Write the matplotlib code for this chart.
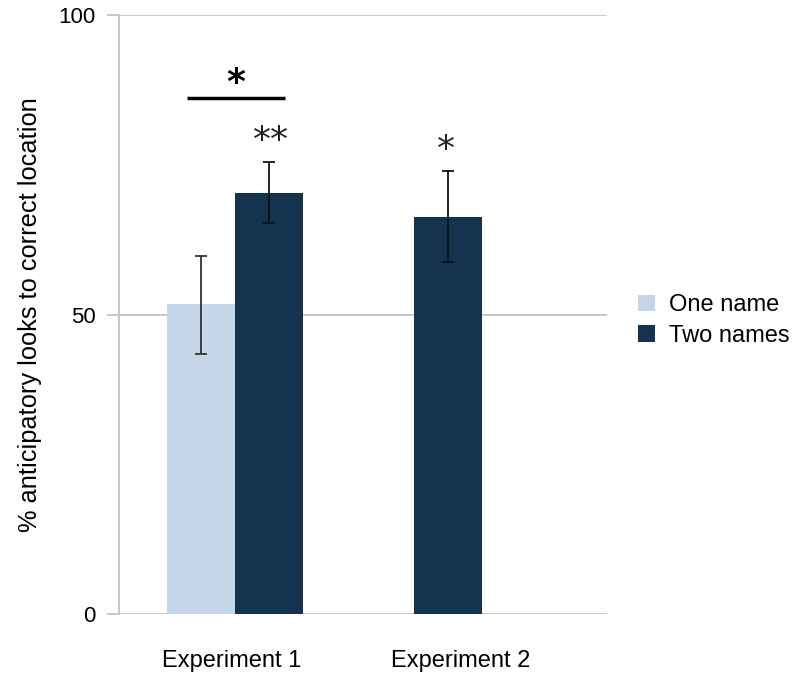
import numpy as np
import matplotlib.pyplot as plt

plt.rcParams['font.family'] = ['Liberation Sans', 'DejaVu Sans']

# values
groups = ["Experiment 1", "Experiment 2"]
one_name = [51.8]          # only experiment 1
one_name_err = [(8.4, 8.0)]  # (lower, upper)
two_names = [70.3, 66.3]
two_names_err = [(5.0, 5.2), (7.5, 7.7)]
sig_labels = ["**", "*"]

light = "#c5d6e8"
dark = "#14334f"
grid = "#c4c4c4"

fig = plt.figure(figsize=(8.01, 6.84), dpi=100)
ax = fig.add_axes([0.1486, 0.1023, 0.6094, 0.8757])

w = 0.38
pos = np.array([0.0, 1.0])

# one name bar sits left of group centre, two names right
ax.bar(pos[:1] - w / 2, one_name, w, color=light, label="One name", zorder=2)
ax.bar(pos + w / 2, two_names, w, color=dark, label="Two names", zorder=2)

lo = [e[0] for e in one_name_err]
hi = [e[1] for e in one_name_err]
ax.errorbar(pos[:1] - w / 2, one_name, yerr=[lo, hi], fmt="none",
            ecolor="#333333", elinewidth=1.3, capsize=4, capthick=1.3, zorder=3)
lo = [e[0] for e in two_names_err]
hi = [e[1] for e in two_names_err]
ax.errorbar(pos + w / 2, two_names, yerr=[lo, hi], fmt="none",
            ecolor="#111111", elinewidth=1.3, capsize=4, capthick=1.3, zorder=3)

# significance stars above the two-names bars
for i, s in enumerate(sig_labels):
    top = two_names[i] + two_names_err[i][1]
    ax.text(pos[i] + w / 2 + (0.01 if i == 0 else -0.01), top + 0.6, s,
            ha="center", va="bottom", fontsize=26, color="#222222",
            family="DejaVu Sans")

# bracket between one and two names in experiment 1
ax.plot([pos[0] - 0.27, pos[0] + 0.28], [86.1, 86.1], color="black", lw=2.5,
        solid_capstyle="butt", zorder=3)
ax.text(pos[0] + 0.005, 85.8, "*", ha="center", va="bottom", fontsize=26,
        color="black", family="DejaVu Sans", fontweight="bold")

ax.set_ylim(0, 100)
ax.set_xlim(-0.65, 2.08)
ax.set_yticks([0, 50, 100])
ax.set_yticklabels(["0", "50", "100"], fontsize=16)
ax.tick_params(axis="y", length=9, color=grid, width=1.3, pad=8)
ax.yaxis.grid(True, color=grid, lw=1.3, zorder=0)
ax.set_axisbelow(True)

ax.set_xticks([-0.02, 1.26])
ax.set_xticklabels(groups, fontsize=17)
ax.tick_params(axis="x", length=0, pad=26)

for side in ["top", "right", "bottom"]:
    ax.spines[side].set_visible(False)
ax.spines["left"].set_color(grid)
ax.spines["left"].set_linewidth(1.3)

ax.set_ylabel("% anticipatory looks to correct location", fontsize=18.3, labelpad=12)

leg = ax.legend(loc="center left", bbox_to_anchor=(1.02, 0.49), frameon=False,
                fontsize=17, handlelength=0.7, handleheight=0.7,
                handletextpad=0.6, labelspacing=0.35)

fig.savefig("out.png", dpi=100)
